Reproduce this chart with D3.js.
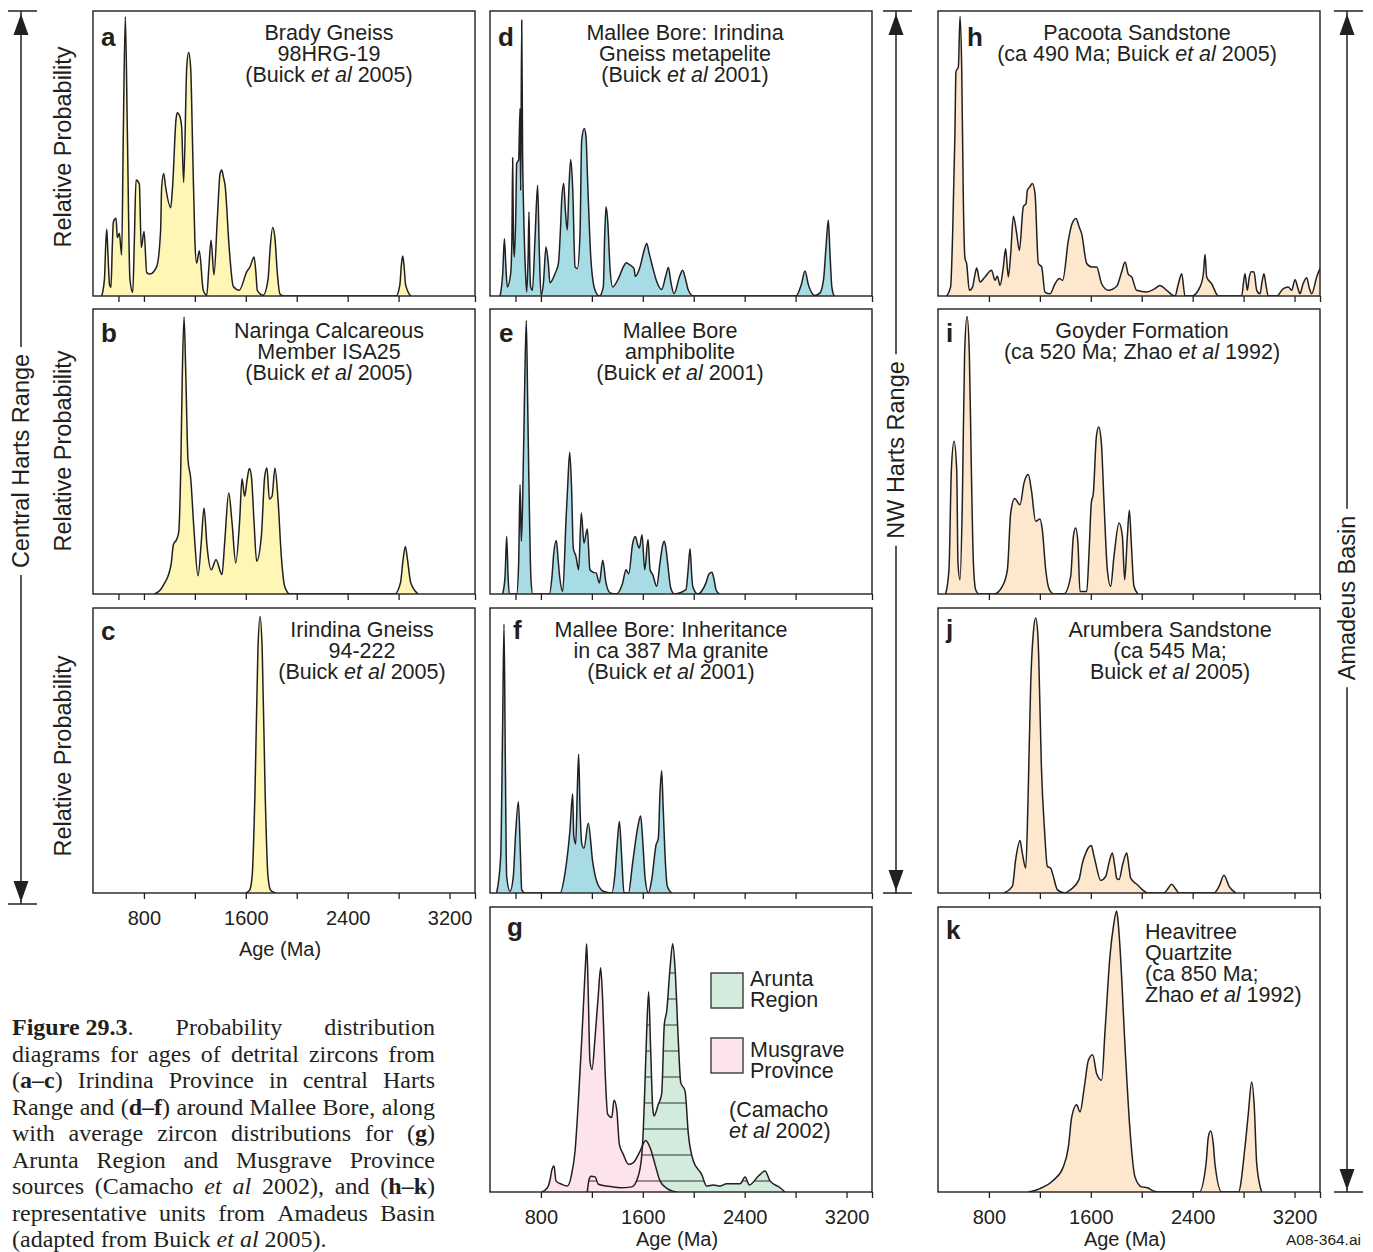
<!DOCTYPE html>
<html>
<head>
<meta charset="utf-8">
<script src="https://cdn.jsdelivr.net/npm/d3@7"></script>
<style>
  body { margin: 0; background: #fff; }
  svg text { white-space: pre; }
</style>
</head>
<body>
<svg id="chart" width="1373" height="1252"></svg>
<script>
// ---------------- DATA (age in Ma, relative probability 0-100) ----------------
const panelA = [[468,0],[490,6],[500,18],[508,23.4],[518,14],[530,4],[541,3],[552,18],[560,26],[581,27.3],[591,20.5],[607,22],[625,14.4],[638,57],[654,98],[670,57],[690,6],[712,1.2],[725,20],[738,40.7],[764,39.3],[779,17],[801,22.6],[822,8.2],[848,7.7],[900,10.3],[931,23],[939,38],[955,43],[971,38],[1010,31],[1025,38.4],[1052,62],[1062,64.3],[1083,62.9],[1096,59.4],[1112,39.8],[1136,80],[1151,85.4],[1167,80],[1183,51],[1200,19.6],[1214,11.5],[1235,15.9],[1266,2],[1293,0.3],[1310,10],[1327,19.6],[1350,7.4],[1377,27.7],[1398,43],[1411,44.2],[1424,41.8],[1437,38.9],[1471,16],[1502,3.3],[1549,2],[1607,8.5],[1633,10.2],[1665,13.7],[1680,7.8],[1690,2],[1737,0.3],[1775,6],[1790,16],[1811,24],[1829,20.2],[1848,7.8],[1868,0.7],[1896,0],[2780,0],[2810,4],[2822,11],[2832,14],[2842,11],[2855,4],[2895,0]];
const panelB = [[884,0],[930,1.5],[963,3.9],[995,7],[1015,10.9],[1031,17.3],[1055,19],[1073,21.6],[1089,43.6],[1102,78.5],[1115,97.2],[1128,78.5],[1146,47.1],[1167,40.7],[1193,22.6],[1225,6.4],[1250,18],[1272,30.2],[1295,17],[1329,8.5],[1366,12],[1413,6.8],[1434,18],[1466,35.4],[1492,25],[1521,10.9],[1552,26],[1570,40.4],[1591,34.3],[1610,40],[1628,44],[1644,41.3],[1665,25],[1685,11.5],[1722,20.2],[1748,41],[1766,44.2],[1785,33.3],[1806,34.3],[1829,44.2],[1853,33.1],[1879,13.2],[1905,2.7],[1945,0],[2769,0],[2815,4],[2835,12],[2853,16.7],[2870,12],[2895,4],[2953,0]];
const panelC = [[1600,0],[1630,1],[1650,6],[1672,35],[1695,85],[1712,97],[1729,85],[1752,35],[1774,6],[1795,1],[1835,0]];
const panelD = [[479,0],[500,8],[513,20.1],[525,10],[536,3.2],[562,7.8],[572,20],[578,48.5],[584,20],[591,13.7],[602,27.4],[609.5,46.5],[625,47.7],[636,65.8],[641,37],[649,96.8],[656,50],[662,33.6],[677,10.2],[688,1.4],[700,15],[706,29.5],[712,12],[719,3.2],[733,2],[753,19.6],[774,38.9],[787,16],[801,0.2],[819,4.3],[840,17.2],[858,11.4],[871,4.6],[910,7.8],[937,11.4],[955,25],[963,33.6],[979,39.5],[992,30],[1007,23.1],[1020,38],[1034,47.9],[1049,38.3],[1068,10.2],[1086,9.6],[1107,21.9],[1120,54.7],[1141,58.8],[1154,55.9],[1167,40],[1193,12.5],[1225,2],[1259,0],[1290,3.2],[1300,20],[1311,31.3],[1324,26.6],[1342,10.2],[1363,3.2],[1408,6.1],[1447,10.2],[1470,11.7],[1492,11.1],[1531,9.6],[1541,6.9],[1578,10.2],[1610,16],[1631,18.4],[1650,15],[1670,11.4],[1710,5],[1748,2.3],[1780,7],[1801,10],[1820,5],[1845,0.8],[1890,7],[1913,9],[1935,6],[1958,2],[1997,0],[2803,0],[2845,4],[2874,8.8],[2900,4],[2953,0.2],[2990,1],[3020,6],[3040,18],[3057,26.6],[3070,15],[3085,3],[3102,0]];
const panelE = [[499,0],[518,6],[531,20.2],[542,6],[552,0],[609,0],[625,10.9],[636,38.4],[646,18.5],[656,32],[670,67],[685,96],[696,67],[704,43.6],[722,5],[735,0],[866,0],[887,6.2],[900,14],[921,18.8],[935,12],[950,5],[971,0.9],[997,26.1],[1010,37.8],[1026,49.7],[1041,36.6],[1054,16.1],[1075,13.2],[1096,8.5],[1117,28.4],[1138,17.9],[1164,22.8],[1185,8.5],[1212,7.6],[1233,7.4],[1259,3.9],[1285,11.8],[1311,3.9],[1343,0.4],[1390,0],[1442,3.9],[1468,8.5],[1489,7.1],[1521,17.9],[1541,20.2],[1560,17.3],[1573,16.1],[1594,20.8],[1615,8.5],[1641,19.1],[1657,8.5],[1678,6.8],[1709,2.7],[1735,10.9],[1755,17],[1769,18.5],[1782,16],[1795,10.9],[1820,2],[1848,0],[1939,1.5],[1955,8],[1971,15.9],[1985,6],[1992,2.7],[2031,0],[2096,3.9],[2120,7],[2143,7.6],[2160,5],[2175,1.5],[2201,0]];
const panelF = [[452,0],[484,12.8],[499,58],[510,94.4],[520,48],[531,5.8],[557,0.6],[583,5.8],[600,20],[623,32],[638,15],[649,1.2],[675,0],[950,0],[989,7],[1028,22.1],[1049,34.7],[1058,20],[1073,17.2],[1085,35],[1096,48.7],[1107,30],[1120,17.5],[1138,15.7],[1172,24.5],[1206,11.1],[1238,4.1],[1290,0.6],[1356,0],[1382,7],[1400,18],[1416,25.1],[1434,12.8],[1452,0.2],[1487,0],[1520,10.5],[1560,23],[1583,27],[1600,18],[1617,5.8],[1644,0],[1670,4.7],[1704,16.9],[1722,19.2],[1735,35],[1748,42.9],[1760,30],[1775,12.8],[1793,2.3],[1827,0]];
const panelGArunta = [[1164,0],[1178,4.4],[1193,5.5],[1225,5.3],[1251,2.7],[1316,2.1],[1421,1.5],[1513,1.8],[1560,5],[1590,12],[1604,22],[1617,38],[1631,57],[1646,70.3],[1662,49.5],[1678,29.6],[1688,26.7],[1722,30.8],[1748,34.3],[1769,58.8],[1788,63.5],[1814,78.7],[1835,87.1],[1853,78.7],[1879,53],[1898,38.4],[1932,35.4],[1958,20.2],[1997,10.9],[2062,6.2],[2102,2.1],[2154,2.5],[2206,2.1],[2259,2.9],[2364,2.9],[2403,5.3],[2437,2.5],[2508,5.6],[2560,7.4],[2599,3.9],[2678,1.5],[2717,0]];
const panelGMusgrave = [[806,0],[840,1],[858,2.1],[875,5],[884,7.4],[903,9.1],[918,3.9],[963,2.7],[1007,2.1],[1041,6.2],[1068,14.4],[1094,31.9],[1120,53],[1138,69.4],[1151,81],[1159,87.1],[1170,72.9],[1185,46],[1201,43],[1225,54.2],[1251,69.4],[1269,78.7],[1285,67],[1303,43.6],[1324,27.3],[1356,26.1],[1374,32.2],[1395,29],[1416,16.7],[1447,13.2],[1487,9.7],[1526,10.3],[1573,13.8],[1623,18.1],[1657,15.6],[1696,9.7],[1735,3.9],[1788,1.3],[1866,0]];
const panelH = [[468,0],[499,3.2],[515,21.9],[533,57],[541,78.7],[560,80.4],[573,98.2],[586,80.4],[599,33.6],[612,13.1],[625,11.4],[646,2],[672,3.2],[688,7],[704,9.8],[730,4.9],[769,6.7],[821,9],[848,5.5],[866,6.9],[887,3.7],[913,10.2],[931,16.6],[952,6.7],[971,14.9],[992,28],[1018,21.9],[1039,16],[1070,31.3],[1091,32.4],[1102,37.1],[1122,38.3],[1141,39.5],[1162,35.9],[1188,11.4],[1214,10.2],[1240,1.4],[1280,0.8],[1319,4.3],[1353,6.1],[1379,5.5],[1424,19.6],[1450,25],[1484,27.2],[1510,24],[1528,21.9],[1568,11.4],[1607,10.2],[1646,10.2],[1685,4.3],[1738,2],[1803,3.4],[1842,8.4],[1869,11.9],[1895,7.6],[1921,6.7],[1960,2],[2039,1.4],[2100,2.5],[2143,3.7],[2196,2],[2261,0],[2288,4.3],[2314,7.8],[2340,0],[2392,0],[2458,3.2],[2484,7.8],[2497,14.6],[2510,6.7],[2549,4.3],[2602,0],[2785,0],[2800,5],[2811,7.8],[2829,2],[2845,6.7],[2860,8.5],[2882,8.4],[2903,2],[2929,0.8],[2945,5],[2960,7.8],[2975,4],[2994,0],[3060,0],[3112,2.6],[3151,3.2],[3177,2],[3204,5.7],[3225,3],[3243,0.8],[3265,4],[3295,6.4],[3315,3],[3335,0.8],[3374,6.7],[3400,9.6]];
const panelI = [[460,0],[486,8.5],[505,43.6],[526,53.6],[547,43.6],[557,10.9],[573,5],[591,31.9],[609,84.6],[628,97.4],[646,84.6],[662,43.6],[678,10.9],[696,1.5],[722,0],[840,0],[905,2.7],[945,8.5],[971,28.4],[1002,33.5],[1044,31.3],[1075,38.9],[1109,41.9],[1133,36.6],[1167,25.5],[1201,26.3],[1219,22.6],[1246,8.5],[1272,1.8],[1311,0],[1390,0.1],[1442,6.2],[1463,20.2],[1481,23.2],[1499,17.9],[1515,0.9],[1568,0.9],[1586,14.4],[1604,31.9],[1620,35.4],[1644,55.3],[1662,58.6],[1683,53],[1704,31.9],[1730,8.5],[1756,2.7],[1782,13.2],[1822,24.9],[1848,20.2],[1866,5],[1887,20.2],[1903,29.4],[1918,17.9],[1939,2.7],[1971,0]];
const panelJ = [[918,0],[984,2.3],[1010,11.7],[1044,18.4],[1062,14],[1089,8.7],[1107,32.6],[1128,73.4],[1149,91.6],[1167,96.5],[1185,90],[1193,79.3],[1212,44.3],[1238,21],[1259,9.3],[1285,8.7],[1306,5.8],[1337,1.2],[1395,0],[1442,1.2],[1507,4.7],[1534,10.5],[1560,14],[1578,15.7],[1604,16.7],[1620,14],[1638,10.5],[1678,4.4],[1717,5.8],[1745,11],[1769,14],[1790,9],[1803,5.2],[1822,4.7],[1850,10],[1882,14],[1900,9],[1913,5.2],[1966,2.9],[2005,1.2],[2044,0],[2175,0],[2205,1.5],[2235,3.1],[2265,1.5],[2293,0],[2568,0],[2607,2.3],[2646,6.2],[2686,2.3],[2738,0]];
const panelK = [[1109,0],[1201,1.2],[1306,4.1],[1384,8.8],[1424,15.8],[1450,26.3],[1489,30.6],[1515,28.1],[1549,36.8],[1581,46.2],[1615,48.2],[1646,41.5],[1685,39.2],[1712,56.7],[1751,83],[1777,93],[1803,98.6],[1816,94],[1829,86],[1869,50.9],[1908,21.6],[1947,5.3],[2000,1.8],[2044,1.5],[2091,0.4],[2130,0],[2452,0],[2505,9.9],[2523,19.3],[2541,21.4],[2562,16.8],[2575,9.9],[2628,0],[2759,0],[2811,15.8],[2837,27.5],[2863,38.6],[2884,29.8],[2903,9.9],[2942,0]];

const ageDomain = [400, 3400];
const ticksUpper = [600, 800, 1200, 1600, 2000, 2400, 2800, 3400];
const ticksLower = [800, 1200, 1600, 2000, 2400, 2800, 3200, 3400];
const tickLabels = [800, 1600, 2400, 3200];

const titleA = ["Brady Gneiss", "98HRG-19", "(Buick *et al* 2005)"];
const titleB = ["Naringa Calcareous", "Member ISA25", "(Buick *et al* 2005)"];
const titleC = ["Irindina Gneiss", "94-222", "(Buick *et al* 2005)"];
const titleD = ["Mallee Bore: Irindina", "Gneiss metapelite", "(Buick *et al* 2001)"];
const titleE = ["Mallee Bore", "amphibolite", "(Buick *et al* 2001)"];
const titleF = ["Mallee Bore: Inheritance", "in ca 387 Ma granite", "(Buick *et al* 2001)"];
const titleH = ["Pacoota Sandstone", "(ca 490 Ma; Buick *et al* 2005)"];
const titleI = ["Goyder Formation", "(ca 520 Ma; Zhao *et al* 1992)"];
const titleJ = ["Arumbera Sandstone", "(ca 545 Ma;", "Buick *et al* 2005)"];
const titleK = ["Heavitree", "Quartzite", "(ca 850 Ma;", "Zhao *et al* 1992)"];

const legendG = ["Arunta|Region", "Musgrave|Province"];
const noteG = ["(Camacho", "*et al* 2002)"];

const captionLines = [
  "**Figure\u00a029.3**. Probability distribution",
  "diagrams for ages of detrital zircons from",
  "(**a–c**) Irindina Province in central Harts",
  "Range and (**d–f**) around Mallee Bore, along",
  "with average zircon distributions for (**g**)",
  "Arunta Region and Musgrave Province",
  "sources (Camacho *et al* 2002), and (**h–k**)",
  "representative units from Amadeus Basin",
  "(adapted from Buick *et al* 2005)."
];

// ---------------- STYLE / LAYOUT ----------------
const INK = "#231f20";
const SANS = "'Liberation Sans', Arial, Helvetica, sans-serif";
const SERIF = "'Liberation Serif', 'Times New Roman', serif";
const YELLOW = "#fdf6b5", CYAN = "#a8dce5", PEACH = "#fde8cd", GREEN = "#d2ebdd", PINK = "#fde3ee";
const COLS = [93, 490, 938];
const ROWS = [11, 309, 608, 907];
const PW = 382, PH = 285;
const RELPROB_Y = [147, 451, 756];

const svg = d3.select("#chart");
const defs = svg.append("defs");

function parseRuns(s) {
  const runs = [];
  const re = /\*\*(.+?)\*\*|\*(.+?)\*|([^*]+)/g;
  let m;
  while ((m = re.exec(s))) {
    if (m[1] !== undefined) runs.push({ t: m[1], b: true });
    else if (m[2] !== undefined) runs.push({ t: m[2], i: true });
    else runs.push({ t: m[3] });
  }
  return runs;
}
function addRich(sel, str) {
  parseRuns(str).forEach(r => {
    const t = sel.append("tspan").text(r.t);
    if (r.b) t.attr("font-weight", "bold");
    if (r.i) t.attr("font-style", "italic");
  });
}

const panels = [
  { id: "a", col: 0, row: 0, series: [{ data: panelA, fill: YELLOW }], title: titleA, tx: 329, letter: [101, 46], ticks: ticksUpper },
  { id: "b", col: 0, row: 1, series: [{ data: panelB, fill: YELLOW }], title: titleB, tx: 329, letter: [101, 342], ticks: ticksUpper },
  { id: "c", col: 0, row: 2, series: [{ data: panelC, fill: YELLOW }], title: titleC, tx: 362, letter: [101, 640], ticks: ticksLower, labels: true, ageY: 956 },
  { id: "d", col: 1, row: 0, series: [{ data: panelD, fill: CYAN }], title: titleD, tx: 685, letter: [498, 46], ticks: ticksUpper },
  { id: "e", col: 1, row: 1, series: [{ data: panelE, fill: CYAN }], title: titleE, tx: 680, letter: [499, 342], ticks: ticksUpper },
  { id: "f", col: 1, row: 2, series: [{ data: panelF, fill: CYAN }], title: titleF, tx: 671, letter: [513, 639], ticks: ticksUpper },
  { id: "g", col: 1, row: 3, series: [{ data: panelGArunta, fill: GREEN, hatch: true }, { data: panelGMusgrave, fill: PINK }], title: [], tx: 0, letter: [507, 936], ticks: ticksLower, labels: true, ageY: 1246 },
  { id: "h", col: 2, row: 0, series: [{ data: panelH, fill: PEACH }], title: titleH, tx: 1137, letter: [967, 46], ticks: ticksLower },
  { id: "i", col: 2, row: 1, series: [{ data: panelI, fill: PEACH }], title: titleI, tx: 1142, letter: [946, 342], ticks: ticksLower },
  { id: "j", col: 2, row: 2, series: [{ data: panelJ, fill: PEACH }], title: titleJ, tx: 1170, letter: [946, 638], ticks: ticksLower },
  { id: "k", col: 2, row: 3, series: [{ data: panelK, fill: PEACH }], title: titleK, tx: 1145, anchor: "start", titleY: 939, letter: [946, 939], ticks: ticksLower, labels: true, ageY: 1246 }
];

panels.forEach(p => {
  const x0 = COLS[p.col], y0 = ROWS[p.row];
  const x = d3.scaleLinear().domain(ageDomain).range([x0, x0 + PW]);
  const y = d3.scaleLinear().domain([0, 100]).range([y0 + PH, y0]);
  const clipId = "clip-" + p.id;
  defs.append("clipPath").attr("id", clipId).append("rect")
    .attr("x", x0).attr("y", y0).attr("width", PW).attr("height", PH);
  const area = d3.area().x(d => x(d[0])).y0(y(0)).y1(d => y(d[1])).curve(d3.curveMonotoneX);
  const line = d3.line().x(d => x(d[0])).y(d => y(d[1])).curve(d3.curveMonotoneX);
  const g = svg.append("g").attr("clip-path", `url(#${clipId})`);

  p.series.forEach(s => {
    g.append("path").attr("d", area(s.data)).attr("fill", s.fill).attr("stroke", "none");
  });
  p.series.forEach(s => {
    if (s.hatch) {
      const hid = "hatch-" + p.id;
      defs.append("clipPath").attr("id", hid).append("path").attr("d", area(s.data));
      const hg = g.append("g").attr("clip-path", `url(#${hid})`);
      for (let yy = y0 + PH - 11; yy > y0; yy -= 26) {
        hg.append("line").attr("x1", x0).attr("x2", x0 + PW).attr("y1", yy).attr("y2", yy)
          .attr("stroke", INK).attr("stroke-width", 0.9);
      }
    }
  });
  p.series.forEach(s => {
    g.append("path").attr("d", line(s.data)).attr("fill", "none").attr("stroke", INK)
      .attr("stroke-width", 1.5).attr("stroke-linejoin", "round");
  });

  // frame
  svg.append("rect").attr("x", x0).attr("y", y0).attr("width", PW).attr("height", PH)
    .attr("fill", "none").attr("stroke", INK).attr("stroke-width", 1.4);

  // axis
  const axis = d3.axisBottom(x).tickValues(p.ticks).tickSize(6).tickSizeOuter(0).tickPadding(12)
    .tickFormat(d => (p.labels && tickLabels.includes(d)) ? d : "");
  const ag = svg.append("g").attr("transform", `translate(0,${y0 + PH})`).call(axis);
  ag.select(".domain").remove();
  ag.selectAll(".tick line").attr("stroke", INK).attr("stroke-width", 1.3);
  ag.selectAll(".tick text").attr("fill", INK).attr("font-family", SANS).attr("font-size", 20);

  // letter
  svg.append("text").attr("x", p.letter[0]).attr("y", p.letter[1]).text(p.id)
    .attr("font-family", SANS).attr("font-weight", "bold").attr("font-size", 26).attr("fill", INK);

  // title
  const ty = p.titleY || (y0 + 29);
  p.title.forEach((ln, k) => {
    const t = svg.append("text").attr("x", p.tx).attr("y", ty + k * 21)
      .attr("text-anchor", p.anchor || "middle").attr("font-family", SANS).attr("font-size", 21.5).attr("fill", INK);
    addRich(t, ln);
  });

  if (p.labels) {
    svg.append("text").attr("x", x0 + PW / 2 - 4).attr("y", p.ageY).attr("text-anchor", "middle")
      .attr("font-family", SANS).attr("font-size", 20).attr("fill", INK).text("Age (Ma)");
  }
  if (p.col === 0) {
    svg.append("text").attr("transform", `translate(63,${RELPROB_Y[p.row]}) rotate(-90)`)
      .attr("text-anchor", "middle").attr("dominant-baseline", "central")
      .attr("font-family", SANS).attr("font-size", 23.5).attr("fill", INK).text("Relative Probability");
  }
});

// legend in g
const legendBoxes = [{ fill: GREEN, y: 973, ty: 986 }, { fill: PINK, y: 1038, ty: 1057 }];
legendG.forEach((lab, k) => {
  svg.append("rect").attr("x", 711).attr("y", legendBoxes[k].y).attr("width", 32).attr("height", 35)
    .attr("fill", legendBoxes[k].fill).attr("stroke", "#3a3a3a").attr("stroke-width", 1.4);
  lab.split("|").forEach((s, j) => {
    svg.append("text").attr("x", 750).attr("y", legendBoxes[k].ty + j * 21)
      .attr("font-family", SANS).attr("font-size", 21.5).attr("fill", INK).text(s);
  });
});
noteG.forEach((s, j) => {
  const t = svg.append("text").attr("x", 729).attr("y", 1117 + j * 21)
    .attr("font-family", SANS).attr("font-size", 21.5).attr("fill", INK);
  addRich(t, s);
});

// brackets
function bracket(xc, yTop, yBot, label, yc) {
  const bg = svg.append("g");
  const t = bg.append("text").attr("transform", `translate(${xc},${yc}) rotate(-90)`)
    .attr("text-anchor", "middle").attr("dominant-baseline", "central")
    .attr("font-family", SANS).attr("font-size", 23.5).attr("fill", INK).text(label);
  const L = t.node().getComputedTextLength();
  const gap = 7;
  bg.append("line").attr("x1", xc).attr("x2", xc).attr("y1", yTop).attr("y2", yc - L / 2 - gap)
    .attr("stroke", INK).attr("stroke-width", 1.5);
  bg.append("line").attr("x1", xc).attr("x2", xc).attr("y1", yc + L / 2 + gap).attr("y2", yBot)
    .attr("stroke", INK).attr("stroke-width", 1.5);
  [yTop, yBot].forEach(yy => bg.append("line").attr("x1", xc - 13).attr("x2", xc + 16).attr("y1", yy).attr("y2", yy)
    .attr("stroke", INK).attr("stroke-width", 1.5));
  bg.append("path").attr("d", `M${xc},${yTop + 3} L${xc - 7.5},${yTop + 24} L${xc + 7.5},${yTop + 24} Z`).attr("fill", INK);
  bg.append("path").attr("d", `M${xc},${yBot - 2} L${xc - 7.5},${yBot - 23} L${xc + 7.5},${yBot - 23} Z`).attr("fill", INK);
}
bracket(21, 11, 904, "Central Harts Range", 461);
bracket(896, 11, 893, "NW Harts Range", 450);
bracket(1347, 11, 1192, "Amadeus Basin", 598);

// caption (justified)
const capX = 12, capW = 423, capY = 1035, capLH = 26.5, capFS = 24;
captionLines.forEach((ln, li) => {
  const runs = parseRuns(ln);
  const words = [[]];
  runs.forEach(r => {
    r.t.split(" ").forEach((part, k) => {
      if (k > 0) words.push([]);
      if (part) words[words.length - 1].push(Object.assign({}, r, { t: part }));
    });
  });
  const ws = words.filter(w => w.length);
  const nodes = ws.map(w => {
    const t = svg.append("text").attr("y", capY + li * capLH).attr("font-family", SERIF)
      .attr("font-size", capFS).attr("fill", INK);
    w.forEach(r => {
      const ts = t.append("tspan").text(r.t);
      if (r.b) ts.attr("font-weight", "bold");
      if (r.i) ts.attr("font-style", "italic");
    });
    return t;
  });
  const widths = nodes.map(n => n.node().getComputedTextLength());
  const total = d3.sum(widths);
  const last = li === captionLines.length - 1;
  const gap = last ? capFS * 0.25 : (capW - total) / (nodes.length - 1);
  let cx = capX;
  nodes.forEach((n, k) => { n.attr("x", cx); cx += widths[k] + gap; });
});

svg.append("text").attr("x", 1361).attr("y", 1245).attr("text-anchor", "end")
  .attr("font-family", SANS).attr("font-size", 15.5).attr("fill", INK).text("A08-364.ai");
</script>
</body>
</html>
